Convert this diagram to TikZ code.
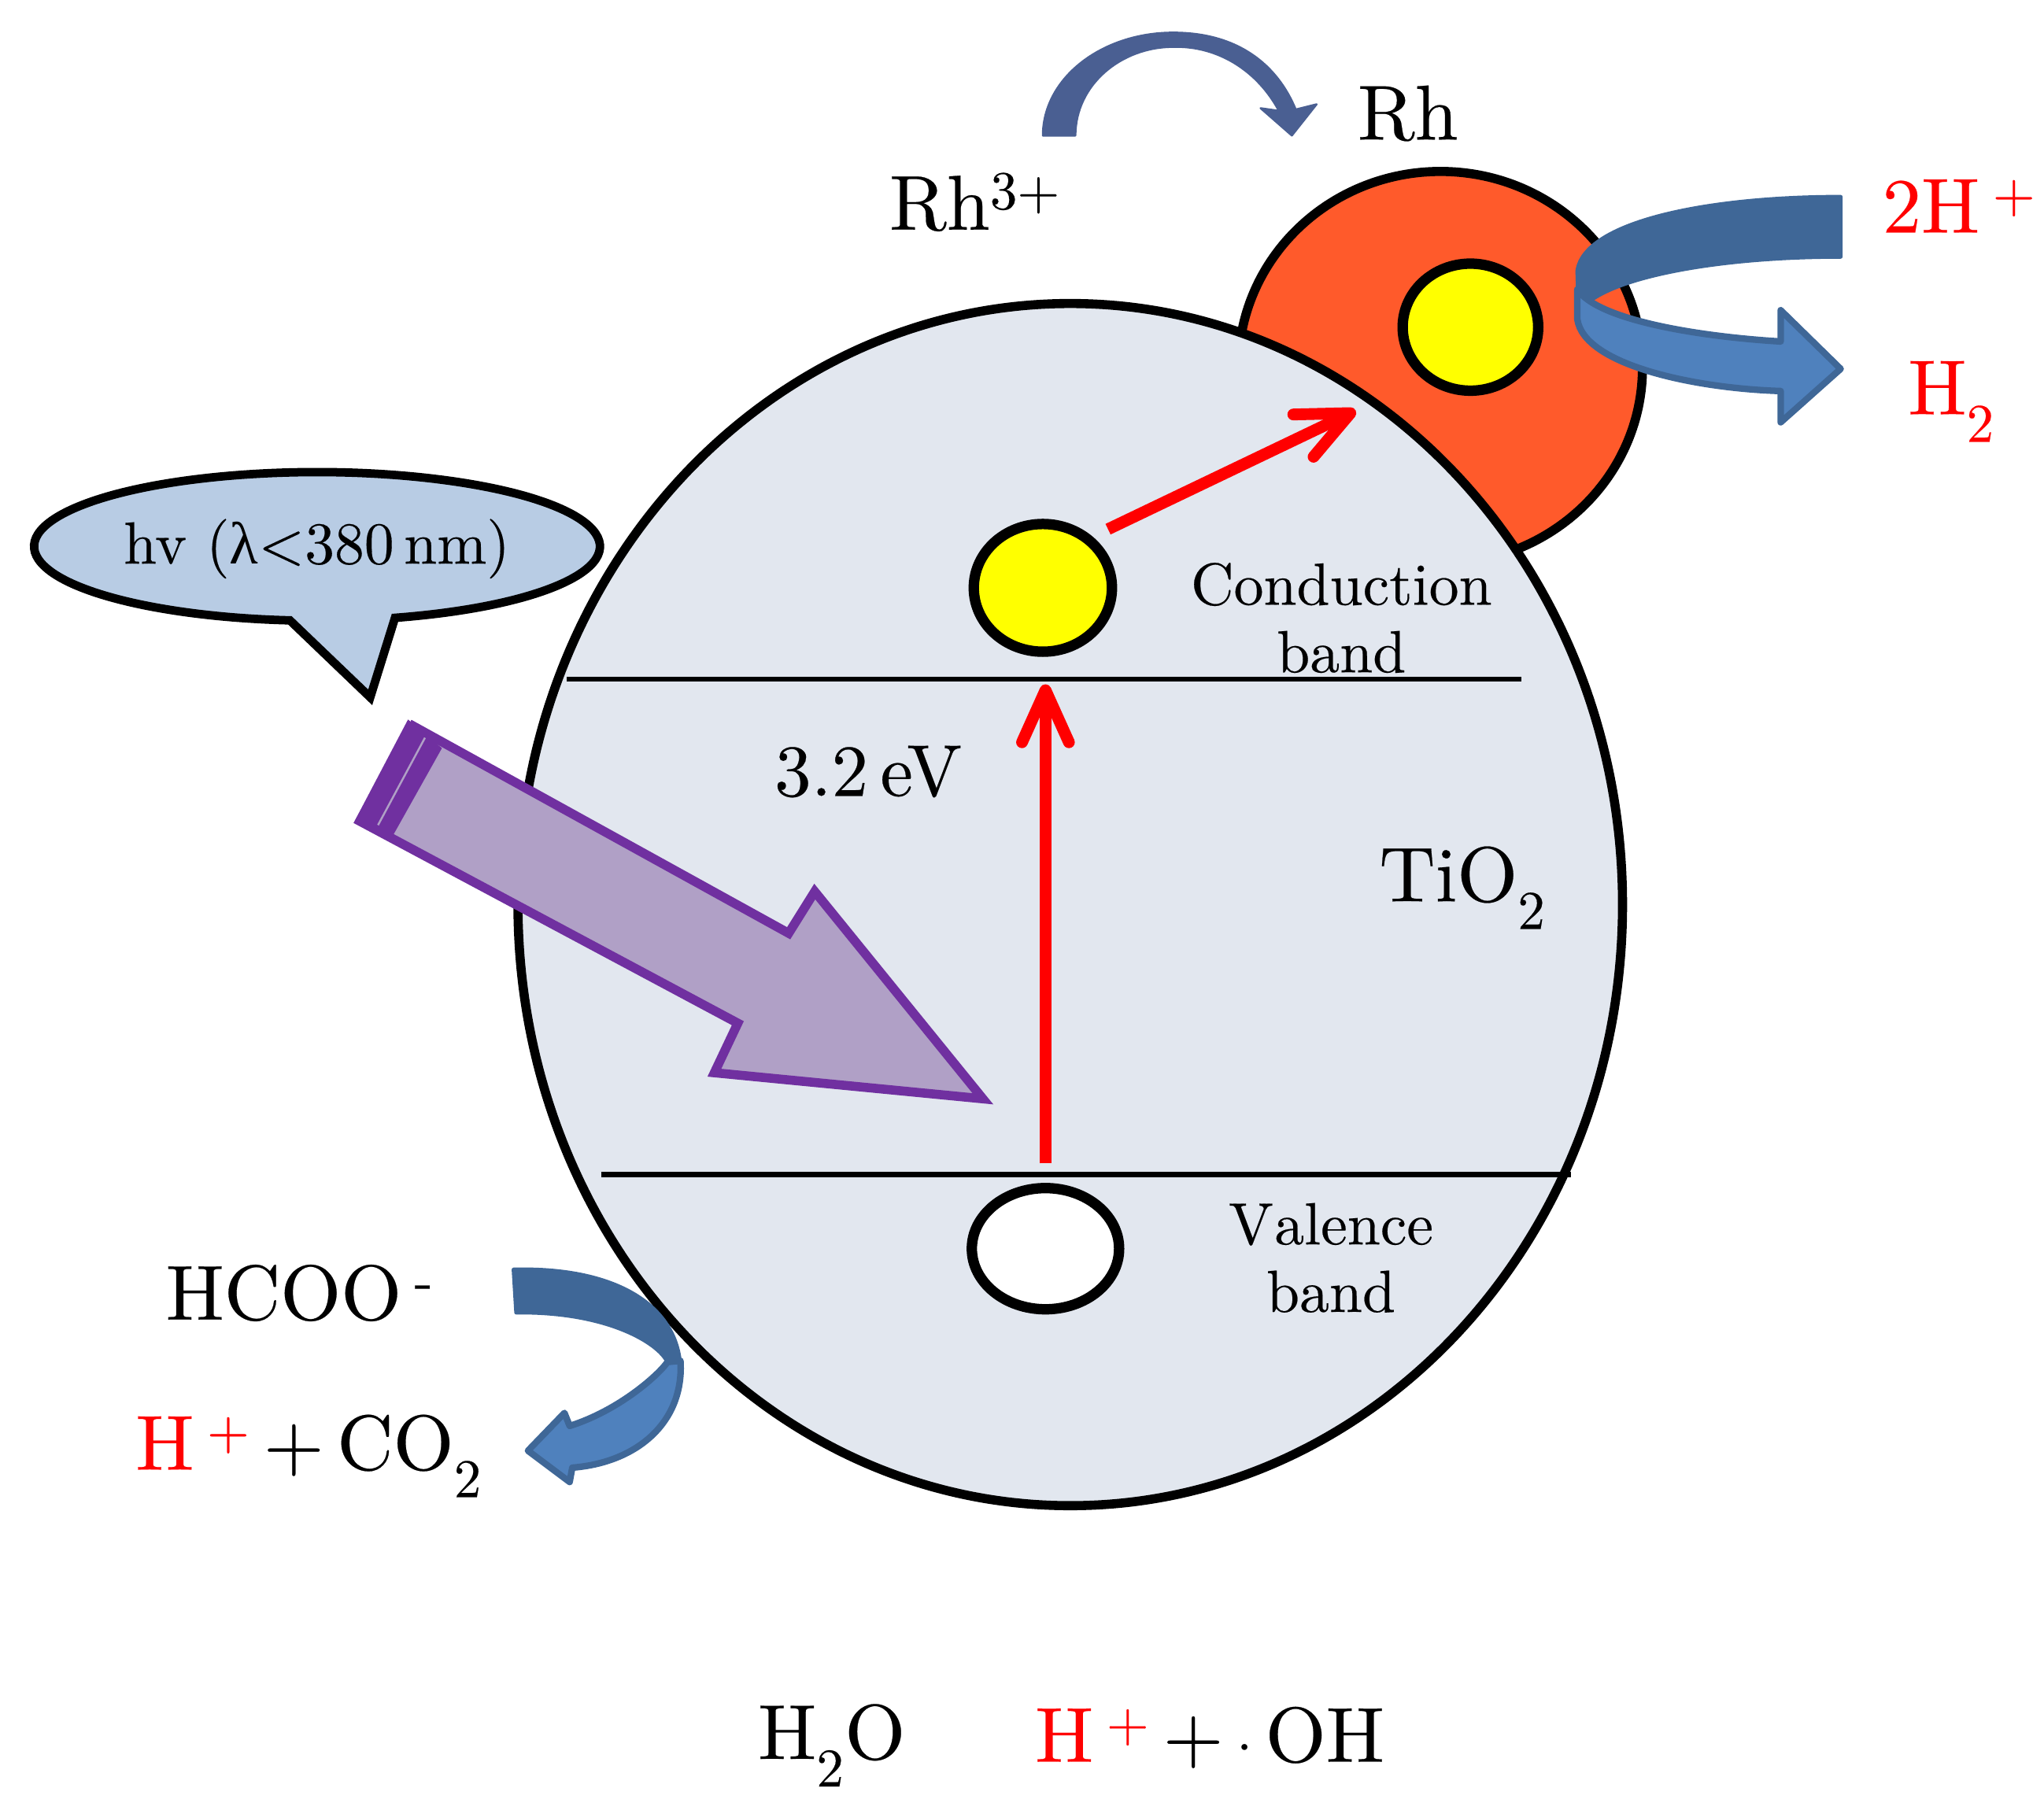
\documentclass[tikz,border=0pt]{standalone}
\usepackage{fontspec}
\setmainfont{lmroman10-regular.otf}[FakeBold=0.25]
\newfontfamily\greekfont{Liberation Serif}
\usetikzlibrary{shapes.geometric,arrows.meta}
\definecolor{bandgrey}{HTML}{E2E7EF}
\definecolor{metalred}{HTML}{FF5A2B}
\definecolor{calloutblue}{HTML}{B8CCE4}
\definecolor{lightpurple}{HTML}{B0A0C6}
\definecolor{darkpurple}{HTML}{7030A0}
\definecolor{backblue}{HTML}{3F6797}
\definecolor{frontblue}{HTML}{4F81BD}
\definecolor{topblue}{HTML}{4A5F92}
\definecolor{carrier}{RGB}{255,255,0}
\newcommand{\lowered}[1]{\raisebox{-0.14em}{\textsubscript{#1}}}
\tikzstyle{particle} = [ellipse,
                    inner sep=0pt,
                    draw=black,
                    line width=0.16cm]
\tikzstyle{level} = [draw=black, line width=0.08cm]
\tikzstyle{excite} = [draw=red,
                    line width=0.18cm,
                    -{Straight Barb[round,length=0.8cm,width=0.72cm]}]
\tikzstyle{back} = [fill=backblue, draw=backblue, line width=0.06cm, line join=round]
\tikzstyle{front} = [fill=frontblue, draw=backblue, line width=0.1cm, line join=round]
\tikzstyle{large} = [inner sep=0pt, font=\fontsize{34}{40}\selectfont]
\tikzstyle{small} = [inner sep=0pt, align=center, font=\fontsize{26}{29.5}\selectfont]
\begin{document}
\begin{tikzpicture}[x=0.02cm,y=-0.02cm]
    \useasboundingbox (0,0) rectangle (1568,1380);
    % particles and bands
    \node (rh) at (1105,282) [ellipse, inner sep=0pt, draw=black, fill=metalred, line width=0.14cm, minimum width=6.2cm, minimum height=6.02cm] {};
    \node (tio) at (821,694) [ellipse, inner sep=0pt, draw=black, fill=bandgrey, line width=0.14cm, minimum width=16.95cm, minimum height=18.45cm] {};
    \node (erh) at (1128,251) [particle, fill=carrier, minimum width=2.08cm, minimum height=1.95cm] {};
    \node (ecb) at (800,451) [particle, fill=carrier, minimum width=2.12cm, minimum height=1.96cm] {};
    \node (hvb) at (802,958) [particle, fill=white, minimum width=2.26cm, minimum height=1.86cm] {};
    \coordinate (cbl) at (435,521);
    \coordinate (cbr) at (1167,521);
    \coordinate (vbl) at (461,901);
    \coordinate (vbr) at (1205,901);
    \coordinate (jump) at (850,406);
    \coordinate (metal) at (1040,315);
    \draw[level] (cbl) -- (cbr);
    \draw[level] (vbl) -- (vbr);
    \draw[excite, shorten <=0.3cm, shorten >=0.42cm] (hvb.north) -- (hvb.north |- ecb.south);
    \draw[excite] (jump) -- (metal);
    % light
    \path[draw=black, fill=calloutblue, line width=0.13cm, line join=miter]
      (303,474) arc[start angle=74, end angle=-264.5, x radius=217, y radius=57] -- (284,535) -- cycle;
    \node (light) at (243,421) [small, font=\fontsize{26}{29}\selectfont] {hv ({\greekfont λ}<380\,nm)};
    \path[fill=lightpurple, draw=darkpurple, line width=0.14cm, line join=miter]
      (317,557) -- (605,716) -- (625,684) -- (754,843) -- (548,823) -- (566,785) -- (276,630) -- cycle;
    \path[fill=darkpurple] (313,552) -- (339,574) -- (302,640) -- (272,630) -- cycle;
    \draw[lightpurple, line width=0.03cm] (326,566) -- (290,633);
    % curved arrows
    \path[fill=topblue, draw=topblue, line width=0.03cm, line join=round]
      (800,104) .. controls (800,60) and (845,25) .. (900,25)
      .. controls (950,25) and (980,50) .. (994,84) -- (1010,80) -- (991,104) -- (967,83)
      -- (981,85) .. controls (965,55) and (935,35) .. (900,36)
      .. controls (860,36) and (825,65) .. (825,104) -- cycle;
    \path[back]
      (1412,151) .. controls (1310,151) and (1215,170) .. (1210,208) -- (1211,240)
      .. controls (1225,215) and (1310,197) .. (1412,197) -- cycle;
    \path[front]
      (1210,222) -- (1210,245) .. controls (1215,280) and (1300,298) .. (1366,300)
      -- (1366,324) -- (1412,283) -- (1366,238) -- (1366,262)
      .. controls (1300,258) and (1225,245) .. (1210,222) -- cycle;
    \path[back]
      (394,974) .. controls (470,972) and (520,1000) .. (522,1050) -- (512,1045)
      .. controls (505,1030) and (465,1006) .. (396,1007) -- cycle;
    \path[front]
      (522,1044) .. controls (525,1090) and (490,1122) .. (439,1126)
      -- (437,1137) -- (405,1113) -- (433,1084) -- (437,1094)
      .. controls (475,1082) and (505,1055) .. (512,1045) -- cycle;
    % labels
    \node (rhion) at (748,155) [large] {Rh\textsuperscript{3+}};
    \node (rhmetal) at (1080,87) [large] {Rh};
    \node (hplus) at (1503,158) [large, text=red] {2H\,\textsuperscript{+}};
    \node (hgas) at (1497,308) [large, text=red] {H\lowered{2}};
    \node (cb) at (1029,474) [small] {Conduction\\band};
    \node (gap) at (666,592) [small, font=\fontsize{32}{32}\selectfont] {3.2\,eV};
    \node (oxide) at (1122,681) [large] {TiO\lowered{2}};
    \node (vb) at (1021,965) [small] {V\kern0.02em alence\\band};
    \node (formate) at (230,992) [large] {HCOO\,\textsuperscript{-}};
    \node (co) at (237,1117) [large] {\textcolor{red}{H\,\textsuperscript{+}}\,+\,CO\lowered{2}};
    \node (water) at (638,1339) [large] {H\lowered{2}O};
    \node (oh) at (928,1333) [large] {\textcolor{red}{H\,\textsuperscript{+}}\,+\,$\cdot$\,OH};
\end{tikzpicture}
\end{document}
